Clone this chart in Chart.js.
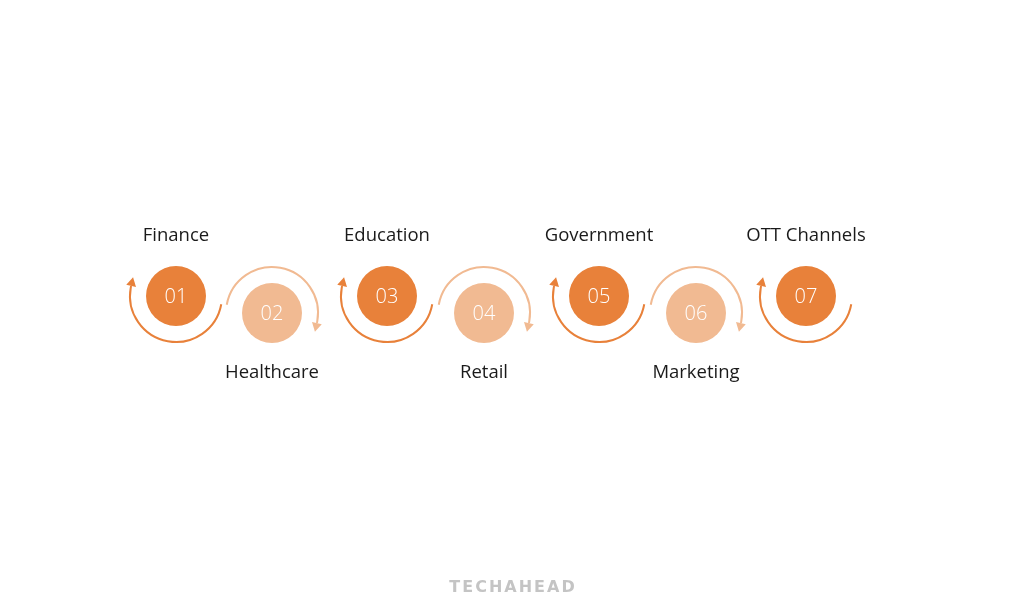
<!DOCTYPE html>
<html><head><meta charset="utf-8">
<script src="https://cdn.jsdelivr.net/npm/chart.js@4"></script>
<style>html,body{margin:0;padding:0;background:#fff}canvas{display:block}</style>
</head><body>
<canvas id="c" width="1024" height="609"></canvas>
<script>
const categories = ["Finance","Healthcare","Education","Retail","Government","Marketing","OTT Channels"];
const stepNumbers = ["01","02","03","04","05","06","07"];
const stepX = [176,272,387,484,599,696,806];
const stepY = [296,313,296,313,296,313,296];

const DARK = "#E8813A", LIGHT = "#F1BA92";

const points = categories.map((c,i)=>({x:stepX[i], y:stepY[i], r:30, label:c, num:stepNumbers[i]}));

const deco = {
  id:'deco',
  afterDatasetsDraw(chart){
    const ctx = chart.ctx, xs = chart.scales.x, ys = chart.scales.y;
    ctx.save();
    points.forEach((p,i)=>{
      const cx = xs.getPixelForValue(p.x), cy = ys.getPixelForValue(p.y);
      const odd = i%2===0;
      const col = odd?DARK:LIGHT;
      const R = 46;
      ctx.strokeStyle = col; ctx.fillStyle = col; ctx.lineWidth = 2;
      ctx.beginPath();
      let endA;
      if(odd){ ctx.arc(cx,cy,R,0.18,Math.PI+0.22,false); endA = Math.PI+0.22; }
      else { ctx.arc(cx,cy,R,Math.PI+0.18,0.22,false); endA = 0.22; }
      ctx.stroke();
      const ex = cx+R*Math.cos(endA), ey = cy+R*Math.sin(endA);
      const tx = -Math.sin(endA), ty = Math.cos(endA);
      const nx = Math.cos(endA), ny = Math.sin(endA);
      ctx.beginPath();
      ctx.moveTo(ex+tx*9, ey+ty*9);
      ctx.lineTo(ex+nx*5, ey+ny*5);
      ctx.lineTo(ex-nx*5, ey-ny*5);
      ctx.closePath(); ctx.fill();
      ctx.fillStyle = "#fff";
      ctx.font = "300 20px 'Open Sans', Inter, sans-serif";
      ctx.textAlign = "center"; ctx.textBaseline = "middle";
      ctx.fillText(p.num, cx, cy+1);
      ctx.fillStyle = "#1a1a1a";
      ctx.font = "400 18.5px 'Open Sans', Inter, sans-serif";
      ctx.fillText(p.label, cx, odd ? cy-60 : cy+60);
    });
    ctx.fillStyle = "#c4c4c4";
    ctx.font = "bold 16px 'DejaVu Sans', sans-serif";
    ctx.textAlign = "center"; ctx.textBaseline = "middle";
    if (ctx.letterSpacing !== undefined) ctx.letterSpacing = "2px";
    ctx.fillText("TECHAHEAD", 513, 588);
    ctx.restore();
  }
};

new Chart(document.getElementById('c'), {
  type:'bubble',
  data:{datasets:[{
    data: points,
    backgroundColor: points.map((p,i)=> i%2===0?DARK:LIGHT),
    borderWidth:0,
    hoverRadius:0
  }]},
  options:{
    responsive:false, animation:false,
    layout:{padding:0, autoPadding:false},
    plugins:{legend:{display:false}, tooltip:{enabled:false}},
    scales:{
      x:{type:'linear', min:0, max:1024, display:false},
      y:{type:'linear', min:0, max:609, reverse:true, display:false}
    }
  },
  plugins:[deco]
});
</script>
</body></html>
